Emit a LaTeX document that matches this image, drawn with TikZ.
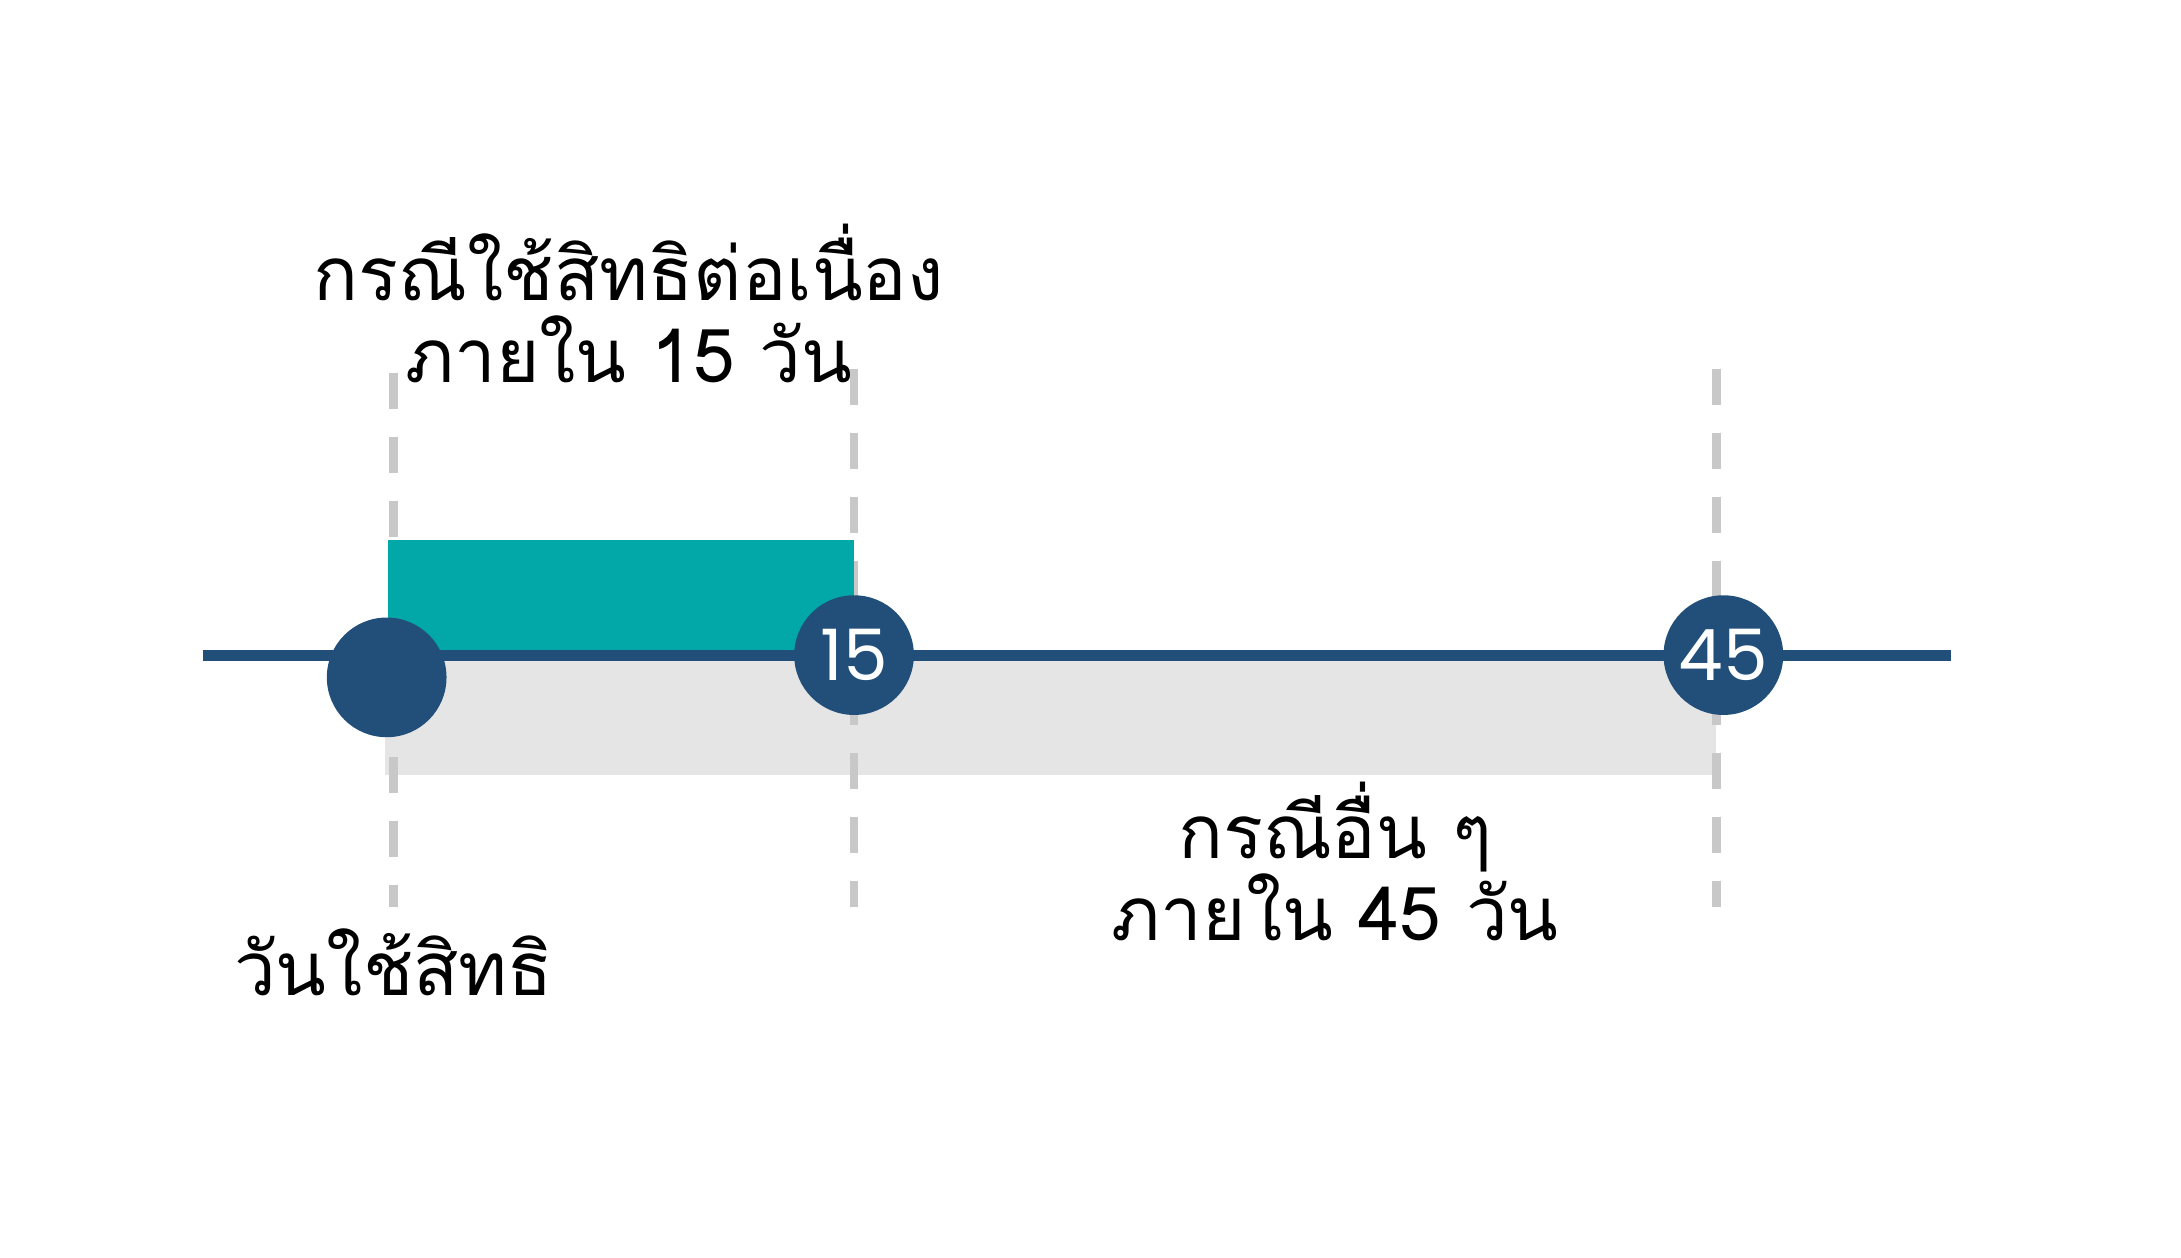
\documentclass[tikz,border=0pt]{standalone}
\usepackage{fontspec}
\newfontfamily\thaifont[Script=Thai]{Loma}
\newfontfamily\numfont{Poppins}
\usetikzlibrary{positioning}
\definecolor{navy}{HTML}{214F7A}
\definecolor{spanteal}{HTML}{02A8A8}
\definecolor{band}{HTML}{E5E5E5}
\definecolor{guidegray}{HTML}{C8C8C8}
\tikzset{dot/.style={circle,fill=navy,minimum size=8.6mm,inner sep=0pt,text=white,font=\numfont\fontsize{14.5}{14.5}\selectfont},guide/.style={draw=guidegray,line width=0.6mm,dash pattern=on 2.6mm off 2mm},timeline/.style={draw=navy,line width=0.8mm},lab/.style={align=center,anchor=base,font=\thaifont\fontsize{15.2}{16.8}\selectfont}}
\begin{document}
\begin{tikzpicture}[x=0.01cm,y=-0.01cm]
\useasboundingbox (0,0) rectangle (1568,904);
\fill[band] (277,471) rectangle (1234,557);
\foreach \x/\t in {283/268,614/265,1234/265} \draw[guide] (\x,\t)--(\x,652);
\fill[spanteal] (279,388) rectangle (614,475);
\coordinate (tl) at (146,471);\coordinate (tr) at (1403,471);
\draw[timeline](tl)--(tr);
\node[dot] (start) at (278,487) {};
\node[dot] (d15) at (614,471) {15};
\node[dot] (d45) at (1239,471) {45};
\node[lab] (cont) at (452,275) {กรณีใช้สิทธิต่อเนื่อง\\ภายใน 15 วัน};
\node[lab] (other) at (960,676) {กรณีอื่น ๆ\\ภายใน 45 วัน};
\node[lab] (useday) at (283,716) {วันใช้สิทธิ};
\end{tikzpicture}
\end{document}
